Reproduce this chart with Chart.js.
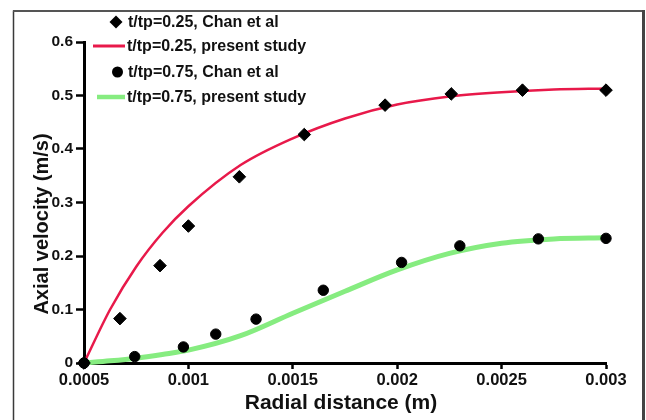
<!DOCTYPE html>
<html>
<head>
<meta charset="utf-8">
<script src="https://cdn.jsdelivr.net/npm/chart.js@4.4.1/dist/chart.umd.min.js"></script>
<style>
  html, body { margin: 0; padding: 0; background: #fff; }
  #wrap { width: 646px; height: 420px; }
</style>
</head>
<body>
<div id="wrap"><canvas id="c" width="646" height="420"></canvas></div>
<script>
// ---- data ----
const seriesLabels = [
  't/tp=0.25, Chan et al',
  't/tp=0.25, present study',
  't/tp=0.75, Chan et al',
  't/tp=0.75, present study'
];

const chanRadius025 = [0.0005, 0.000672, 0.000864, 0.001, 0.001244, 0.001555, 0.001942, 0.002259, 0.0026, 0.003];
const chanVel025    = [0, 0.083, 0.182, 0.256, 0.348, 0.427, 0.482, 0.503, 0.510, 0.510];

const presentRadius = [0.0005, 0.000625, 0.00075, 0.000875, 0.001, 0.00125, 0.0015, 0.00175, 0.002, 0.00225, 0.0025, 0.00275, 0.003];
const presentVel025 = [0, 0.100, 0.180, 0.243, 0.293, 0.370, 0.420, 0.457, 0.483, 0.498, 0.506, 0.511, 0.513];
const presentVel075 = [0, 0.004, 0.009, 0.016, 0.024, 0.051, 0.093, 0.134, 0.174, 0.205, 0.224, 0.232, 0.234];

const chanRadius075 = [0.0005, 0.000743, 0.000976, 0.001131, 0.001324, 0.001646, 0.002021, 0.0023, 0.002676, 0.003];
const chanVel075    = [0, 0.012, 0.030, 0.054, 0.082, 0.136, 0.188, 0.219, 0.232, 0.233];

const xTickValues = [0.0005, 0.001, 0.0015, 0.002, 0.0025, 0.003];
const xTickLabels = ['0.0005', '0.001', '0.0015', '0.002', '0.0025', '0.003'];
const yTickValues = [0, 0.1, 0.2, 0.3, 0.4, 0.5, 0.6];
const yTickLabels = ['0', '0.1', '0.2', '0.3', '0.4', '0.5', '0.6'];

const xTitle = 'Radial distance (m)';
const yTitle = 'Axial velocity (m/s)';

// ---- build ----
const pts = (xs, ys) => xs.map((x, i) => ({ x: x, y: ys[i] }));
const FONT = '"Liberation Sans", Arial, sans-serif';
const RED = '#e8194a';
const GREEN = '#86ec80';

const frame = {
  id: 'frame',
  beforeDraw(chart) {
    const ctx = chart.ctx;
    ctx.save();
    ctx.fillStyle = '#fff';
    ctx.fillRect(0, 0, chart.width, chart.height);
    ctx.strokeStyle = '#3a3a3a';
    ctx.lineWidth = 1.5;
    ctx.beginPath(); ctx.moveTo(13.5, 10.5); ctx.lineTo(13.5, 422); ctx.stroke();
    ctx.lineWidth = 2;
    ctx.strokeStyle = '#555';
    ctx.beginPath(); ctx.moveTo(13, 11); ctx.lineTo(644, 11); ctx.stroke();
    ctx.lineWidth = 3;
    ctx.strokeStyle = '#444';
    ctx.beginPath(); ctx.moveTo(643.5, 10); ctx.lineTo(643.5, 422); ctx.stroke();
    ctx.restore();
  }
};

// axis titles, placed where the reference has them
const axisTitles = {
  id: 'axisTitles',
  afterDraw(chart) {
    const ctx = chart.ctx;
    ctx.save();
    ctx.fillStyle = '#111';
    ctx.textAlign = 'center';
    ctx.textBaseline = 'middle';
    ctx.font = 'bold 21px ' + FONT;
    ctx.fillText(xTitle, 341, 403);
    ctx.translate(42, 224);
    ctx.rotate(-Math.PI / 2);
    ctx.font = 'bold 20px ' + FONT;
    ctx.fillText(yTitle, 0, 0);
    ctx.restore();
  }
};

const legendPlugin = {
  id: 'customLegend',
  afterDraw(chart) {
    const ctx = chart.ctx;
    const ds = chart.data.datasets;
    const rows = [
      { y: 22, kind: 'diamond', mx: 116, tx: 128 },
      { y: 46, kind: 'line', x0: 93, x1: 125, tx: 127 },
      { y: 72, kind: 'circle', mx: 117.5, tx: 128 },
      { y: 97, kind: 'line', x0: 97, x1: 125, tx: 127 }
    ];
    ctx.save();
    rows.forEach((r, i) => {
      const d = ds[i];
      if (r.kind === 'line') {
        ctx.strokeStyle = d.borderColor;
        ctx.lineWidth = i === 1 ? 3 : 4.5;
        ctx.beginPath(); ctx.moveTo(r.x0, r.y); ctx.lineTo(r.x1, r.y); ctx.stroke();
      } else if (r.kind === 'diamond') {
        ctx.fillStyle = '#000';
        ctx.beginPath();
        ctx.moveTo(r.mx - 6.5, r.y); ctx.lineTo(r.mx, r.y - 6.5);
        ctx.lineTo(r.mx + 6.5, r.y); ctx.lineTo(r.mx, r.y + 6.5);
        ctx.closePath(); ctx.fill();
      } else {
        ctx.fillStyle = '#000';
        ctx.beginPath(); ctx.arc(r.mx, r.y, 5.5, 0, Math.PI * 2); ctx.fill();
      }
      ctx.fillStyle = '#111';
      ctx.font = 'bold 16px ' + FONT;
      ctx.textBaseline = 'middle';
      ctx.textAlign = 'left';
      ctx.fillText(d.label, r.tx, r.y + 1);
    });
    ctx.restore();
  }
};

new Chart(document.getElementById('c'), {
  type: 'scatter',
  data: {
    datasets: [
      {
        label: seriesLabels[0],
        data: pts(chanRadius025, chanVel025),
        pointStyle: 'rectRot',
        pointRadius: 6.3,
        backgroundColor: '#000',
        borderColor: '#000',
        borderWidth: 1,
        showLine: false,
        order: 0,
        clip: false
      },
      {
        label: seriesLabels[1],
        data: pts(presentRadius, presentVel025),
        showLine: true,
        borderColor: RED,
        backgroundColor: RED,
        borderWidth: 2.5,
        pointRadius: 0,
        tension: 0.4,
        cubicInterpolationMode: 'monotone',
        order: 2,
        clip: false
      },
      {
        label: seriesLabels[2],
        data: pts(chanRadius075, chanVel075),
        pointStyle: 'circle',
        pointRadius: 5.2,
        backgroundColor: '#000',
        borderColor: '#000',
        borderWidth: 1,
        showLine: false,
        order: 0,
        clip: false
      },
      {
        label: seriesLabels[3],
        data: pts(presentRadius, presentVel075),
        showLine: true,
        borderColor: GREEN,
        backgroundColor: GREEN,
        borderWidth: 5,
        pointRadius: 0,
        tension: 0.4,
        cubicInterpolationMode: 'monotone',
        order: 3,
        clip: false
      }
    ]
  },
  options: {
    responsive: false,
    devicePixelRatio: 1,
    animation: false,
    layout: { padding: { left: 22, right: 40, top: 42, bottom: 0 } },
    plugins: {
      legend: { display: false },
      tooltip: { enabled: false }
    },
    scales: {
      x: {
        type: 'linear',
        min: 0.0005,
        max: 0.003,
        afterBuildTicks: (axis) => { axis.ticks = xTickValues.map(v => ({ value: v })); },
        afterFit: (scale) => { scale.height = 57; },
        ticks: {
          callback: (v, i) => xTickLabels[i],
          color: '#111',
          font: { family: FONT, size: 16.5, weight: 'bold' },
          padding: 2,
          maxRotation: 0,
          autoSkip: false
        },
        grid: {
          drawOnChartArea: false,
          drawTicks: true,
          tickLength: 6,
          tickWidth: 2.5,
          tickColor: '#000'
        },
        border: { display: true, color: '#000', width: 3 },
        title: { display: false }
      },
      y: {
        type: 'linear',
        min: 0,
        max: 0.6,
        afterBuildTicks: (axis) => { axis.ticks = yTickValues.map(v => ({ value: v })); },
        afterFit: (scale) => { scale.width = 62; },
        ticks: {
          callback: (v, i) => yTickLabels[i],
          color: '#111',
          font: { family: FONT, size: 15.5, weight: 'bold' },
          padding: 3,
          autoSkip: false
        },
        grid: {
          drawOnChartArea: false,
          drawTicks: true,
          tickLength: 8,
          tickWidth: 2.5,
          tickColor: '#000'
        },
        border: { display: true, color: '#000', width: 3 },
        title: { display: false }
      }
    }
  },
  plugins: [frame, axisTitles, legendPlugin]
});
</script>
</body>
</html>
